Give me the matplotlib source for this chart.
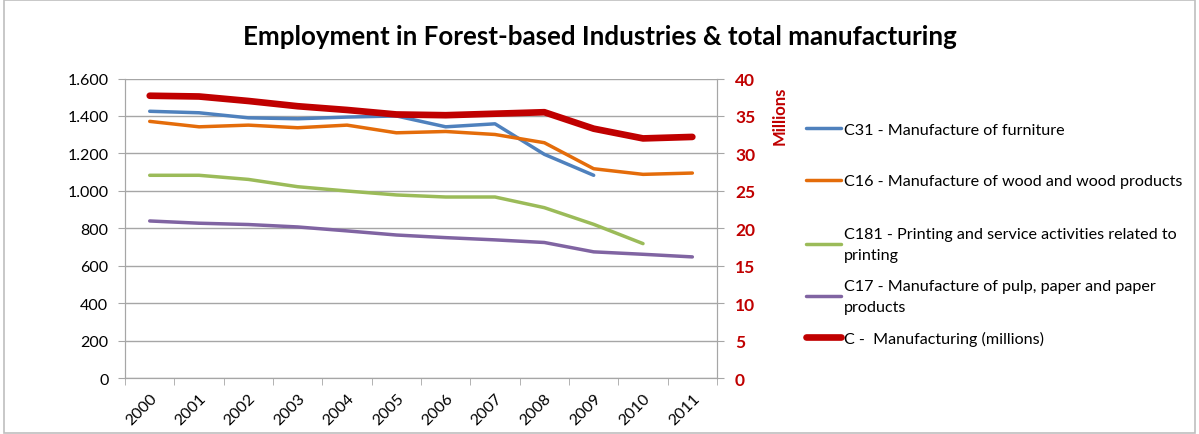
import matplotlib.pyplot as plt
from matplotlib.patches import Rectangle
from matplotlib.ticker import FuncFormatter, MultipleLocator

years = ["2000", "2001", "2002", "2003", "2004", "2005",
         "2006", "2007", "2008", "2009", "2010", "2011"]

# thousands of employees (left axis)
c31 = [1425, 1417, 1390, 1385, 1394, 1400, 1342, 1358, 1195, 1083]
c16 = [1371, 1342, 1351, 1337, 1351, 1310, 1317, 1301, 1257, 1118, 1088, 1095]
c181 = [1083, 1083, 1061, 1022, 999, 978, 967, 967, 910, 821, 718]
c17 = [839, 827, 820, 807, 786, 764, 750, 738, 724, 674, 661, 647]
# millions (right axis)
c_total = [37.7, 37.6, 37.0, 36.3, 35.8, 35.2, 35.1, 35.3, 35.5, 33.3, 32.0, 32.2]

labels = [
    "C31 - Manufacture of furniture",
    "C16 - Manufacture of wood and wood products",
    "C181 - Printing and service activities related to\nprinting",
    "C17 - Manufacture of pulp, paper and paper\nproducts",
    "C -  Manufacturing (millions)",
]
colors = ["#4F81BD", "#E46C0A", "#9BBB59", "#8064A2", "#C00000"]

plt.rcParams["font.family"] = ["Lato", "DejaVu Sans"]
grid_c = "#A6A6A6"
red = "#C00000"

fig = plt.figure(figsize=(11.99, 4.35), dpi=100)
fig.patches.append(Rectangle((0.003, 0.002), 0.994, 0.996, transform=fig.transFigure,
                             fill=False, edgecolor="#BFBFBF", linewidth=1.2))

ax = fig.add_axes([0.1043, 0.1287, 0.4937, 0.6885])
ax2 = ax.twinx()

x = list(range(len(years)))
lines = []
for vals, c in zip([c31, c16, c181, c17], colors[:4]):
    ln, = ax.plot(x[:len(vals)], vals, color=c, linewidth=2.5, solid_capstyle="round")
    lines.append(ln)
ln, = ax2.plot(x, c_total, color=colors[4], linewidth=4.8, solid_capstyle="round")
lines.append(ln)

ax.set_xlim(-0.5, 11.5)
ax.set_ylim(0, 1600)
ax.yaxis.set_major_locator(MultipleLocator(200))
ax.yaxis.set_major_formatter(FuncFormatter(lambda v, p: f"{v:,.0f}".replace(",", ".")))
ax.grid(axis="y", color=grid_c, linewidth=1)
ax.set_axisbelow(True)
ax.set_xticks(x)
ax.set_xticklabels(years, rotation=45, ha="right", va="top", rotation_mode="anchor", fontsize=11.5)
ax.set_xticks([i - 0.5 for i in range(13)], minor=True)
ax.tick_params(axis="x", which="major", length=0, pad=9)
ax.tick_params(axis="x", which="minor", length=5, color=grid_c)
ax.tick_params(axis="y", length=5, color=grid_c, labelsize=11.5, pad=7)

ax2.set_ylim(0, 40)
ax2.yaxis.set_major_locator(MultipleLocator(5))
ax2.tick_params(axis="y", length=5, color=grid_c, labelsize=12.5, labelcolor=red, pad=8)
for t in ax2.get_yticklabels():
    t.set_fontweight("bold")
ax2.set_ylabel("Millions", color=red, fontweight="bold", fontsize=12)
ax2.yaxis.set_label_coords(1.093, 0.88)

for a in (ax, ax2):
    a.spines["top"].set_visible(False)
    for s in ("left", "right", "bottom"):
        a.spines[s].set_color(grid_c)

fig.suptitle("Employment in Forest-based Industries & total manufacturing",
             fontsize=18.6, fontweight="bold", y=0.915, x=0.5, va="center")

# legend entries positioned like the original (one per row)
legend_y = [130.7, 182.3, 245.5, 297.5, 339.0]
for ln, lab, yy in zip(lines, labels, legend_y):
    leg = fig.legend(handles=[ln], labels=[lab], loc="center left",
                     bbox_to_anchor=(806 / 1199, 1 - yy / 435), frameon=False,
                     fontsize=11.6, handlelength=2.15, handletextpad=0.2,
                     borderpad=0, borderaxespad=0)
    for t in leg.get_texts():
        t.set_linespacing(1.6)

fig.savefig("out.png", dpi=100)
